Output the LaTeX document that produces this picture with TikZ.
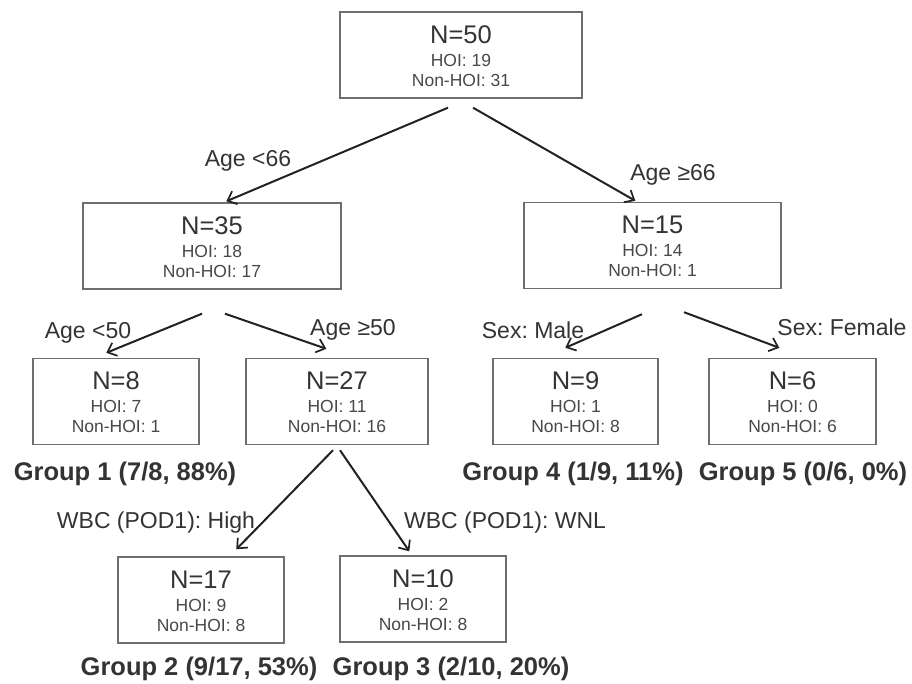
\documentclass[tikz,border=0pt]{standalone}
\usepackage{fontspec}
\setmainfont{Liberation Sans}
\usetikzlibrary{arrows.meta,calc}
\frenchspacing
\definecolor{boxline}{HTML}{6E6E6E}
\definecolor{txt}{HTML}{333333}
\definecolor{subtxt}{HTML}{484848}
\definecolor{arr}{HTML}{222222}
\tikzset{
  treebox/.style={draw=boxline, line width=1.4pt, minimum height=86pt, inner sep=0pt},
  bigN/.style={anchor=base, text=txt, font=\fontsize{25.5}{30}\selectfont, inner sep=0pt},
  subline/.style={anchor=base, text=subtxt, font=\fontsize{17.5}{21}\selectfont, inner sep=0pt},
  edgelab/.style={anchor=base, text=txt, font=\fontsize{23}{27}\selectfont, inner sep=0pt},
  grouplab/.style={anchor=base, text=txt, font=\bfseries\fontsize{25.5}{30}\selectfont, inner sep=0pt},
  conn/.style={draw=arr, line width=2pt, -{Straight Barb[length=8pt,width=14pt,line width=1.7pt]}}
}
\newcommand{\treenode}[7]{%
  \node[treebox, minimum width=#4pt] (#1) at (#2,#3) {};
  \node[bigN] (#1N) at ($(#1.north)+(0,32)$) {#5};
  \node[subline] (#1H) at ($(#1.north)+(0,55)$) {#6};
  \node[subline] (#1M) at ($(#1.north)+(0,75)$) {#7};
}
\begin{document}
\begin{tikzpicture}[x=1pt,y=-1pt]
\useasboundingbox (0,0) rectangle (912,683);
\fill[white] (0,0) rectangle (912,683);

\treenode{root}{461}{55}{242}{N=50}{HOI: 19}{Non-HOI: 31}
\treenode{na}{212}{246}{258}{N=35}{HOI: 18}{Non-HOI: 17}
\treenode{nb}{652.5}{245.5}{257}{N=15}{HOI: 14}{Non-HOI: 1}
\treenode{nc}{116}{401.5}{166}{N=8}{HOI: 7}{Non-HOI: 1}
\treenode{nd}{337}{401.5}{182}{N=27}{HOI: 11}{Non-HOI: 16}
\treenode{ne}{575.5}{401.5}{165}{N=9}{HOI: 1}{Non-HOI: 8}
\treenode{nf}{792.5}{401.5}{167}{N=6}{HOI: 0}{Non-HOI: 6}
\treenode{ng}{201}{600}{166}{N=17}{HOI: 9}{Non-HOI: 8}
\treenode{nh}{423}{599}{166}{N=10}{HOI: 2}{Non-HOI: 8}

% connector end points
\coordinate (r1) at ($(root.south)+(-13,9)$);
\coordinate (r2) at ($(root.south)+(12,9)$);
\coordinate (a1) at ($(na.north west)+(144,-1)$);
\coordinate (b1) at ($(nb.north west)+(112,-1)$);
\coordinate (s1) at ($(na.south)+(-10,24)$);
\coordinate (s2) at ($(na.south)+(13,24)$);
\coordinate (c1) at ($(nc.north west)+(74,-5)$);
\coordinate (d1) at ($(nd.north west)+(81,-9)$);
\coordinate (t1) at ($(nb.south)+(-10.5,25)$);
\coordinate (t2) at ($(nb.south)+(31.5,23)$);
\coordinate (e1) at ($(ne.north west)+(73,-10)$);
\coordinate (f1) at ($(nf.north west)+(71,-10)$);
\coordinate (u1) at ($(nd.south)+(-4,5)$);
\coordinate (u2) at ($(nd.south)+(3,5)$);
\coordinate (g1) at ($(ng.north west)+(119,-7)$);
\coordinate (h1) at ($(nh.north west)+(70,-4)$);

\draw[conn] (r1) -- (a1);
\draw[conn] (r2) -- (b1);
\draw[conn] (s1) -- (c1);
\draw[conn] (s2) -- (d1);
\draw[conn] (t1) -- (e1);
\draw[conn] (t2) -- (f1);
\draw[conn] (u1) -- (g1);
\draw[conn] (u2) -- (h1);

% edge labels
\node[edgelab] (l1) at (248,166) {Age <66};
\node[edgelab] (l2) at (673,180) {Age ≥66};
\node[edgelab] (l3) at (88,338) {Age <50};
\node[edgelab] (l4) at (353,335) {Age ≥50};
\node[edgelab] (l5) at (533,338) {Sex: Male};
\node[edgelab] (l6) at (842,335) {Sex: Female};
\node[edgelab] (l7) at (156,528) {WBC (POD1): High};
\node[edgelab] (l8) at (505,528) {WBC (POD1): WNL};

% group labels
\node[grouplab] (g1lab) at (125,480) {Group 1 (7/8, 88\%)};
\node[grouplab] (g4lab) at (573,480) {Group 4 (1/9, 11\%)};
\node[grouplab] (g5lab) at (803,480) {Group 5 (0/6, 0\%)};
\node[grouplab] (g2lab) at (199,675) {Group 2 (9/17, 53\%)};
\node[grouplab] (g3lab) at (451,675) {Group 3 (2/10, 20\%)};
\end{tikzpicture}
\end{document}
